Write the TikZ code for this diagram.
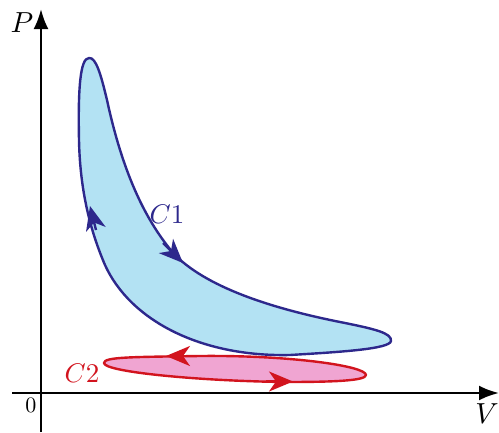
\documentclass[tikz,border=0pt]{standalone}
\usetikzlibrary{arrows.meta}
\definecolor{cfill}{RGB}{179,226,243}
\definecolor{cline}{RGB}{45,40,140}
\definecolor{pfill}{RGB}{240,165,210}
\definecolor{pline}{RGB}{210,20,30}
\tikzset{
  axis/.style={line width=2.6pt,-{Latex[length=20pt,width=15pt]}},
  cyc/.style={line width=2.4pt,line join=round},
  tipc/.style={line width=2.4pt,-{Stealth[length=24pt,width=20pt,inset=7pt]}},
  lab/.style={inner sep=0pt,font=\normalsize,scale=2.9}
}
\begin{document}
\begin{tikzpicture}[x=1pt,y=-1pt]
\useasboundingbox (0,0) rectangle (499,432);
% axes
\coordinate (ytop) at (41,9);
\coordinate (ybot) at (41,432);
\coordinate (xl) at (12,393);
\coordinate (xr) at (499,393);
\draw[axis] (ybot) -- (ytop);
\draw[axis] (xl) -- (xr);
\node[lab] (P) at (22,23) {$P$};
\node[lab] (V) at (487,414) {$V$};
\node[lab,scale=0.76] (zero) at (31,405) {$0$};
% C1
\draw[cyc,fill=cfill,draw=cline]
  (89,58) .. controls (96,57) and (101,75) .. (107,100)
  .. controls (120,160) and (140,215) .. (175,255)
  .. controls (210,290) and (280,310) .. (340,322)
  .. controls (375,329) and (392,333) .. (391,341)
  .. controls (390,349) and (340,352) .. (290,355)
  .. controls (200,357) and (130,320) .. (105,265)
  .. controls (90,230) and (80,190) .. (79,140)
  .. controls (78,90) and (80,58) .. (89,58) -- cycle;
\draw[tipc,cline] (163,243) -- (183,263);
\draw[tipc,cline] (96,230) -- (90,206);
\node[lab,text=cline,scale=0.93] (C1) at (167,214) {$C1$};
% C2
\draw[cyc,fill=pfill,draw=pline]
  (104,363) .. controls (104,357) and (130,357) .. (200,356)
  .. controls (290,355) and (366,366) .. (366,375)
  .. controls (366,381) and (330,382) .. (285,382)
  .. controls (200,381) and (104,372) .. (104,363) -- cycle;
\draw[tipc,pline] (192,356) -- (166,356);
\draw[tipc,pline] (266,381.5) -- (293,381.5);
\node[lab,text=pline,scale=0.93] (C2) at (82,373) {$C2$};
\end{tikzpicture}
\end{document}
